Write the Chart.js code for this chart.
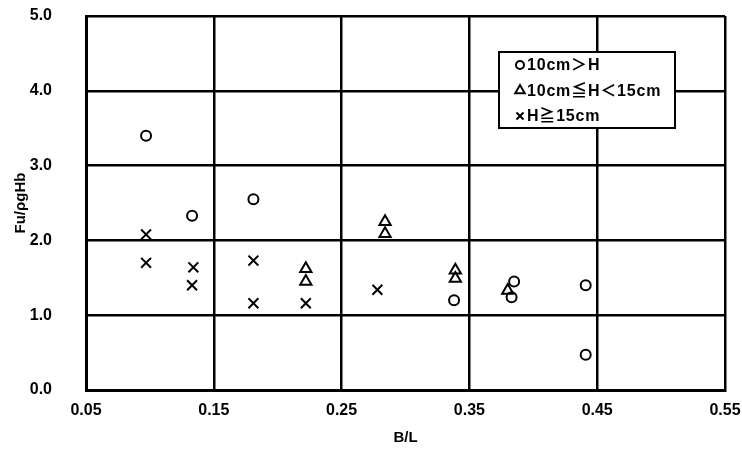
<!DOCTYPE html>
<html>
<head>
<meta charset="utf-8">
<script src="https://cdn.jsdelivr.net/npm/chart.js@4/dist/chart.umd.min.js"></script>
<style>
  html, body { margin: 0; padding: 0; background: #fff; }
  #wrap { width: 742px; height: 451px; }
</style>
</head>
<body>
<div id="wrap"><canvas id="chart"></canvas></div>
<script>
// --- datos ---
const seriesLabels = ['10cm＞H', '10cm≦H＜15cm', 'H≧15cm'];

const lowX = [0.097, 0.133, 0.181, 0.338, 0.385, 0.383, 0.441, 0.441];
const lowY = [3.40, 2.33, 2.55, 1.20, 1.45, 1.24, 1.40, 0.47];

const midX = [0.222, 0.222, 0.284, 0.284, 0.339, 0.339, 0.380];
const midY = [1.62, 1.45, 2.25, 2.09, 1.60, 1.49, 1.33];

const highX = [0.097, 0.097, 0.134, 0.133, 0.181, 0.181, 0.222, 0.278];
const highY = [2.08, 1.70, 1.64, 1.40, 1.73, 1.16, 1.16, 1.34];

const xTicks = [0.05, 0.15, 0.25, 0.35, 0.45, 0.55];
const yTicks = [0, 1, 2, 3, 4, 5];

const toPoints = (xs, ys) => xs.map((x, i) => ({ x: x, y: ys[i] }));

const FONT = '"Liberation Sans", "Noto Sans CJK JP", Arial, sans-serif';

// leyenda en recuadro dentro del área del gráfico
const boxLegend = {
    id: 'boxLegend',
    afterDraw(chart) {
        const ctx = chart.ctx;
        const area = chart.chartArea;
        const w = 176, h = 76;
        const left = area.right - 50 - w;
        const top = area.top + 36;
        ctx.save();
        ctx.fillStyle = '#fff';
        ctx.fillRect(left, top, w, h);
        ctx.strokeStyle = '#000';
        ctx.lineWidth = 2;
        ctx.strokeRect(left, top, w, h);
        ctx.textBaseline = 'middle';
        const sizes = [4, 5.5, 5];
        chart.data.datasets.forEach((ds, i) => {
            const y = top + 13 + i * 25.5;
            ctx.strokeStyle = '#000';
            ctx.fillStyle = 'rgba(0,0,0,0)';
            Chart.helpers.drawPoint(ctx, {
                pointStyle: ds.pointStyle,
                radius: sizes[i],
                borderWidth: 2,
                rotation: 0
            }, left + 21, y);
            ctx.fillStyle = '#000';
            ctx.font = 'bold 16px ' + FONT;
            ctx.letterSpacing = '0.8px';
            ctx.fillText(ds.label, left + 28, y + 1);
        });
        ctx.restore();
    }
};

const ctx = document.getElementById('chart').getContext('2d');
new Chart(ctx, {
    type: 'scatter',
    data: {
        datasets: [
            {
                label: seriesLabels[0],
                data: toPoints(lowX, lowY),
                pointStyle: 'circle',
                pointRadius: 5,
                borderColor: '#000',
                backgroundColor: 'rgba(0,0,0,0)',
                borderWidth: 2
            },
            {
                label: seriesLabels[1],
                data: toPoints(midX, midY),
                pointStyle: 'triangle',
                pointRadius: 6.5,
                borderColor: '#000',
                backgroundColor: 'rgba(0,0,0,0)',
                borderWidth: 2
            },
            {
                label: seriesLabels[2],
                data: toPoints(highX, highY),
                pointStyle: 'crossRot',
                pointRadius: 7,
                borderColor: '#000',
                backgroundColor: 'rgba(0,0,0,0)',
                borderWidth: 2
            }
        ]
    },
    options: {
        responsive: true,
        maintainAspectRatio: false,
        animation: false,
        layout: { padding: { top: 16, right: 17, left: 0, bottom: 0 } },
        plugins: {
            legend: { display: false },
            tooltip: { enabled: false }
        },
        scales: {
            x: {
                type: 'linear',
                min: xTicks[0],
                max: xTicks[xTicks.length - 1],
                afterBuildTicks: (s) => { s.ticks = xTicks.map(v => ({ value: v })); },
                afterFit: (s) => { s.height = 61; s.paddingLeft = 0; s.paddingRight = 0; },
                grid: { color: '#000', lineWidth: 2.5, drawTicks: false },
                border: { color: '#000', width: 3 },
                ticks: {
                    color: '#000',
                    padding: 11,
                    font: { family: FONT, size: 16, weight: 'bold' },
                    callback: (v) => Number(v).toFixed(2)
                },
                title: {
                    display: true,
                    text: 'B/L',
                    color: '#000',
                    padding: { top: 0, bottom: 4 },
                    font: { family: FONT, size: 15, weight: 'bold' }
                }
            },
            y: {
                type: 'linear',
                min: yTicks[0],
                max: yTicks[yTicks.length - 1],
                afterBuildTicks: (s) => { s.ticks = yTicks.map(v => ({ value: v })); },
                afterFit: (s) => { s.width = 86; s.paddingTop = 0; s.paddingBottom = 0; },
                grid: { color: '#000', lineWidth: 2.5, drawTicks: false },
                border: { color: '#000', width: 3 },
                ticks: {
                    color: '#000',
                    padding: 34,
                    font: { family: FONT, size: 16, weight: 'bold' },
                    callback: (v) => Number(v).toFixed(1)
                },
                title: {
                    display: true,
                    text: 'Fu/ρgHb',
                    color: '#000',
                    padding: { top: 12, bottom: 0 },
                    font: { family: FONT, size: 15, weight: 'bold' }
                }
            }
        }
    },
    plugins: [boxLegend]
});
</script>
</body>
</html>
